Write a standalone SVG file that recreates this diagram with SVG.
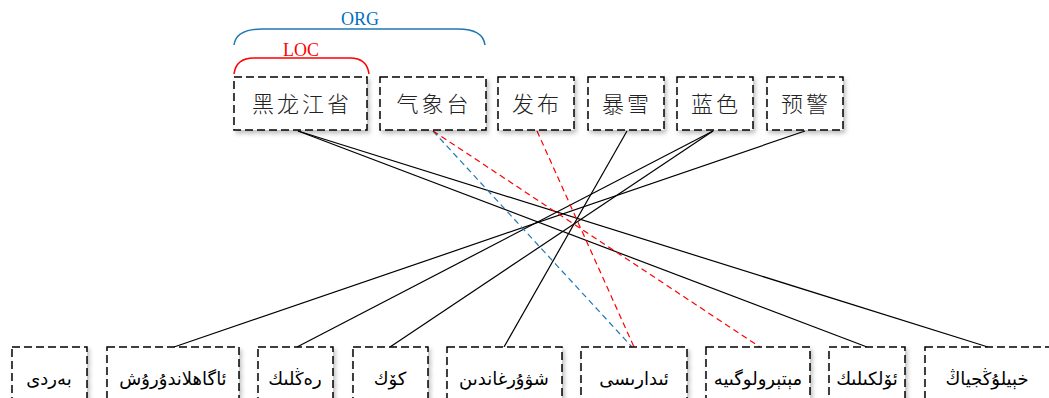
<svg xmlns="http://www.w3.org/2000/svg" width="1049" height="398" viewBox="0 0 1049 398">
<defs>
<filter id="sh" x="-10%" y="-10%" width="130%" height="140%">
<feDropShadow dx="2" dy="3" stdDeviation="2" flood-color="#000" flood-opacity="0.25"/>
</filter>
</defs>
<style>
.box{fill:#fff;stroke:#000;stroke-width:1.5;stroke-dasharray:8 4;filter:url(#sh)}
.zh{font-family:"Noto Sans CJK SC",sans-serif;font-size:22px;font-weight:300;letter-spacing:3px;text-anchor:middle;fill:#222}
.ug{font-family:"Noto Sans","DejaVu Sans",sans-serif;font-size:18px;text-anchor:middle;fill:#000}
.lbl{font-family:"Liberation Serif",serif;font-size:18px;text-anchor:middle}
.k{stroke:#000;stroke-width:1.2;fill:none}
.r{stroke:#f00;stroke-width:1.2;stroke-dasharray:6 4;fill:none}
.b{stroke:#1f77b4;stroke-width:1.2;stroke-dasharray:6 4;fill:none}
</style>
<rect width="1049" height="398" fill="#fff"/>
<g id="brackets">
<path d="M234,45 Q236,29 262,29 L458,29 Q483,29 485,45" fill="none" stroke="#1f77b4" stroke-width="1.5"/>
<text class="lbl" x="360" y="25" fill="#0070c0">ORG</text>
<path d="M234,74 Q236,58 254,58 L350,58 Q367,58 369,74" fill="none" stroke="#f00" stroke-width="1.5"/>
<text class="lbl" x="301" y="56" fill="#f00">LOC</text>
</g>
<g id="connectors">
<line class="k" x1="298" y1="131" x2="988" y2="347"/>
<line class="k" x1="298" y1="131" x2="867" y2="347"/>
<line class="k" x1="627" y1="131" x2="504" y2="347"/>
<line class="k" x1="713" y1="131" x2="297" y2="347"/>
<line class="k" x1="713" y1="131" x2="390" y2="347"/>
<line class="k" x1="805" y1="131" x2="174" y2="347"/>
<line class="b" x1="433" y1="131" x2="632" y2="347"/>
<line class="r" x1="433" y1="131" x2="760" y2="347"/>
<line class="r" x1="537" y1="131" x2="634" y2="347"/>
</g>
<g id="n-heilongjiangsheng"><rect class="box" x="234" y="77" width="133" height="53"/><text class="zh" x="302" y="112">黑龙江省</text></g>
<g id="n-qixiangtai"><rect class="box" x="380" y="77" width="106" height="53"/><text class="zh" x="434" y="112">气象台</text></g>
<g id="n-fabu"><rect class="box" x="498" y="77" width="76" height="53"/><text class="zh" x="537" y="112">发布</text></g>
<g id="n-baoxue"><rect class="box" x="588" y="77" width="76" height="53"/><text class="zh" x="627" y="112">暴雪</text></g>
<g id="n-lanse"><rect class="box" x="677" y="77" width="76" height="53"/><text class="zh" x="716" y="112">蓝色</text></g>
<g id="n-yujing"><rect class="box" x="767" y="77" width="76" height="53"/><text class="zh" x="806" y="112">预警</text></g>
<g id="u-berdi"><rect class="box" x="12" y="347" width="75" height="56"/><text class="ug" x="49" y="385">بەردى</text></g>
<g id="u-agahlandurush"><rect class="box" x="107" y="347" width="132" height="56"/><text class="ug" x="173" y="385">ئاگاھلاندۇرۇش</text></g>
<g id="u-renglik"><rect class="box" x="258" y="347" width="75" height="56"/><text class="ug" x="295" y="385">رەڭلىك</text></g>
<g id="u-kok"><rect class="box" x="353" y="347" width="75" height="56"/><text class="ug" x="390" y="385">كۆك</text></g>
<g id="u-shuwurghandin"><rect class="box" x="447" y="347" width="115" height="56"/><text class="ug" x="504" y="385">شۋۇرغاندىن</text></g>
<g id="u-idarisi"><rect class="box" x="581" y="347" width="106" height="56"/><text class="ug" x="634" y="385">ئىدارىسى</text></g>
<g id="u-meteorologiye"><rect class="box" x="706" y="347" width="104" height="56"/><text class="ug" x="758" y="385">مېتېرولوگىيە</text></g>
<g id="u-olkilik"><rect class="box" x="829" y="347" width="76" height="56"/><text class="ug" x="867" y="385">ئۆلكىلىك</text></g>
<g id="u-heylongjiang"><rect class="box" x="925" y="347" width="126" height="56"/><text class="ug" x="987" y="385">خېيلۇڭجياڭ</text></g>
</svg>
